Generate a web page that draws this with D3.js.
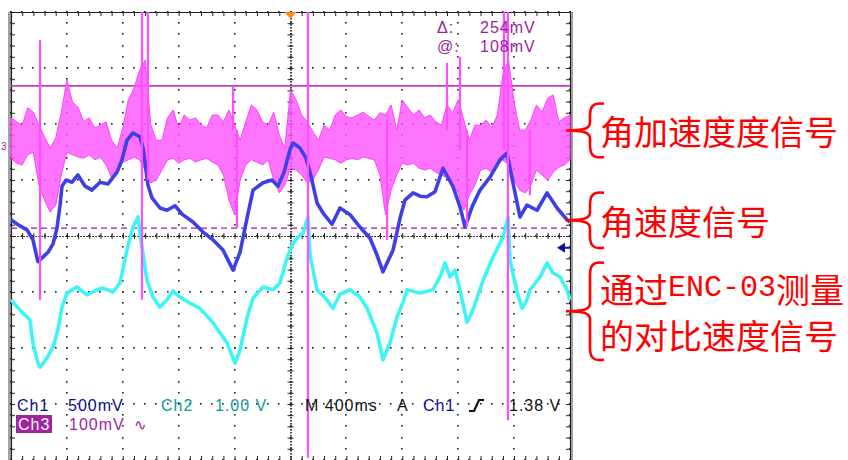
<!DOCTYPE html>
<html><head><meta charset="utf-8">
<script src="https://cdn.jsdelivr.net/npm/d3@7"></script>
<style>body{margin:0;background:#fff}svg{display:block}</style>
</head><body>
<svg id="c" width="848" height="460"></svg>
<script>
// ---------------- DATA (time in ms, values in screen divisions) ----------------
const ch1Time = [0,64,115,157,193,222,265,301,329,351,365,394,437,479,530,580,637,694,759,794,830,873,923,945,980,1009,1066,1116,1174,1224,1302,1374,1446,1517,1553,1589,1639,1689,1732,1803,1868,1911,1954,1996,2018,2068,2111,2140,2190,2233,2297,2354,2426,2497,2569,2619,2662,2734,2784,2819,2877,2927,2977,3034,3091,3163,3213,3249,3299,3356,3428,3499,3549,3592,3642,3692,3764,3836,3907,3979,4000];
const ch1Div = [0.29,0.18,0.11,-0.07,-0.46,-0.39,-0.29,-0.14,0.14,0.55,0.89,1.00,0.96,1.09,0.89,0.82,0.96,0.93,1.14,1.36,1.71,1.84,1.77,1.57,0.91,0.68,0.50,0.46,0.54,0.39,0.25,0.07,-0.07,-0.25,-0.43,-0.61,-0.29,0.32,0.82,0.95,1.00,0.89,1.14,1.54,1.66,1.57,1.39,1.14,0.59,0.41,0.21,0.50,0.38,0.16,-0.04,-0.34,-0.64,-0.25,0.32,0.64,0.77,0.71,0.70,0.79,1.21,0.88,0.52,0.16,0.52,0.82,1.05,1.36,1.48,0.95,0.34,0.55,0.46,0.77,0.50,0.29,0.25];

const ch2Time = [0,64,136,157,193,208,258,301,336,365,401,472,544,616,658,730,780,830,873,909,923,973,1016,1066,1116,1159,1209,1281,1352,1446,1546,1603,1639,1689,1732,1803,1875,1925,1975,2018,2054,2090,2125,2140,2190,2261,2304,2354,2426,2497,2548,2619,2662,2712,2762,2805,2834,2927,3020,3070,3106,3141,3177,3213,3263,3306,3378,3449,3521,3557,3571,3621,3657,3692,3714,3786,3836,3879,3929,3979,4000];
const ch2Div = [-1.14,-1.32,-1.50,-1.91,-2.27,-2.34,-2.18,-1.98,-1.68,-1.27,-1.02,-0.91,-1.05,-0.96,-0.93,-1.00,-0.84,-0.25,0.16,0.34,0.05,-0.79,-1.09,-1.27,-1.14,-0.98,-1.09,-1.20,-1.29,-1.55,-1.91,-2.27,-2.04,-1.46,-1.11,-0.91,-0.96,-0.84,-0.39,-0.13,-0.02,0.05,0.34,-0.34,-0.96,-1.14,-1.29,-1.04,-0.96,-1.09,-1.29,-1.73,-2.21,-1.91,-1.45,-1.18,-0.96,-1.02,-0.96,-0.73,-0.48,-0.73,-0.61,-0.96,-1.54,-1.32,-0.79,-0.38,-0.02,0.34,-0.43,-1.00,-1.29,-1.14,-0.96,-0.73,-0.48,-0.66,-0.73,-0.96,-1.14];

// Ch3 peak-detect envelope, one bin every 40 ms
const ch3BinMs = 40;
const ch3Max = [2.11,2.04,1.98,2.29,2.21,1.98,1.77,1.57,1.75,2.21,
 2.79,2.39,2.30,2.04,2.11,1.93,1.98,2.04,1.71,1.57,
 1.93,2.43,2.64,2.96,3.14,1.98,1.71,1.71,2.11,2.25,
 1.93,2.16,2.07,2.11,1.98,1.93,2.16,2.16,2.04,2.25,
 1.98,1.71,2.04,2.34,2.25,2.04,1.98,2.21,1.80,1.57,
 2.61,2.43,2.16,2.04,1.86,1.71,1.98,1.89,2.16,2.25,
 2.13,2.11,2.16,2.21,2.14,2.07,2.20,2.16,2.34,1.89,
 2.43,2.29,2.16,2.25,2.11,2.16,2.04,1.98,2.34,2.20,
 2.43,2.07,1.71,1.98,1.98,2.07,1.93,2.16,2.88,3.14,
 2.39,1.89,1.89,2.07,2.34,2.21,2.46,2.52,2.04,2.11,
 2.16];
const ch3Min = [1.39,1.30,1.27,1.45,1.50,0.91,0.64,0.43,0.55,1.09,
 1.50,1.45,1.41,1.39,1.45,1.36,1.41,1.27,1.05,1.14,
 1.32,1.36,1.41,1.36,1.18,0.95,1.00,1.18,1.36,1.39,
 1.30,1.36,1.39,1.32,1.36,1.39,1.32,1.27,1.09,0.64,
 0.38,1.00,1.27,1.36,1.32,1.27,1.36,1.00,0.77,0.91,
 1.21,1.18,1.09,0.95,1.00,1.18,1.41,1.39,1.36,1.30,
 1.36,1.39,1.36,1.41,1.39,1.36,1.09,0.38,0.82,1.09,
 1.30,1.27,1.30,1.21,1.18,1.21,1.14,1.09,1.04,0.91,
 0.77,0.46,0.73,0.91,1.18,1.21,1.14,1.27,1.36,1.27,
 1.00,0.82,0.77,0.91,1.18,1.09,1.00,1.14,1.23,1.27,
 1.36];
// Ch3 glitches (narrow spikes)
const spikeTime = [208,937,980,1589,1617,2125,2691,3120,3213,3263,3527,3556,3713];
const spikeMax  = [3.50,4.00,4.00,2.66,1.89,4.00,2.07,3.09,3.20,1.89,4.00,4.00,1.89];
const spikeMin  = [-1.14,-1.14,1.00,1.89,0.14,-3.96,-0.07,1.89,1.54,0.16,1.54,-3.29,0.73];

const cursorDiv = [2.68, 0.14];          // Ch3 cursors (solid, dashed)
const cursorText = ["Δ:", "254mV", "@:", "108mV"];
const triggerTimeMs = 2000;
const triggerLevelDiv = -0.21;
const ch3GroundDiv = 1.60;

const noteLines = [["角加速度度信号"], ["角速度信号"], ["通过ENC-03测量", "的对比速度信号"]];
const noteTopDiv = [2.36, 0.77, -0.48];
const noteBottomDiv = [1.41, -0.21, -2.21];

// ---------------- CHART ----------------
const svg = d3.select("#c");
const X0 = 11, X1 = 570, Y0 = 12, Y1 = 460;
const x = d3.scaleLinear().domain([0, 4000]).range([X0, X1]);
const y = d3.scaleLinear().domain([-4, 4]).range([Y1, Y0]);

// frame side bands
svg.append("rect").attr("x", X0 - 3).attr("y", Y0).attr("width", 3).attr("height", Y1 - Y0).attr("fill", "#a3a3a3");
svg.append("rect").attr("x", X1).attr("y", Y0).attr("width", 3).attr("height", Y1 - Y0).attr("fill", "#a3a3a3");

// graticule dots
const majorT = d3.range(0, 4001, 400), majorV = d3.range(-4, 4.001, 1);
const minorT = d3.range(0, 4001, 80), minorV = d3.range(-4, 4.001, 0.2);
const dots = [];
majorT.forEach(t => minorV.forEach(v => dots.push([t, v])));
majorV.forEach(v => minorT.forEach(t => dots.push([t, v])));
svg.append("g").selectAll("rect").data(dots).join("rect")
  .attr("x", d => Math.round(x(d[0])) - 1).attr("y", d => Math.round(y(d[1])) - 1)
  .attr("width", 1.6).attr("height", 1.6).attr("fill", "#222");

function ax(gen, tx, ty, size, dashed) {
  const g = svg.append("g").attr("transform", `translate(${tx},${ty})`)
    .attr("color", "#222")
    .call(gen.tickSize(size).tickSizeOuter(0).tickFormat(""));
  g.selectAll("line").attr("stroke-width", 1);
  g.select(".domain").attr("stroke-width", 1.2).attr("stroke-dasharray", dashed ? "1.5,1.5" : null);
  return g;
}
ax(d3.axisBottom(x).tickValues(minorT), 0, Y0, 4, false);
ax(d3.axisTop(x).tickValues(minorT), 0, Y1, 4, false);
ax(d3.axisRight(y).tickValues(minorV), X0, 0, 4, false);
ax(d3.axisLeft(y).tickValues(minorV), X1, 0, 4, false);
ax(d3.axisBottom(x).tickValues(minorT), 0, y(0), 3, true);
ax(d3.axisTop(x).tickValues(minorT), 0, y(0), 3, true);
ax(d3.axisRight(y).tickValues(minorV), x(triggerTimeMs), 0, 3, true);
ax(d3.axisLeft(y).tickValues(minorV), x(triggerTimeMs), 0, 3, true);

// cursors
svg.append("line").attr("x1", X0).attr("x2", X1).attr("y1", y(cursorDiv[0])).attr("y2", y(cursorDiv[0]))
  .attr("stroke", "#c23cc2").attr("stroke-width", 1.6);
svg.append("line").attr("x1", X0).attr("x2", X1).attr("y1", y(cursorDiv[1])).attr("y2", y(cursorDiv[1]))
  .attr("stroke", "#a01aa0").attr("stroke-width", 1.4).attr("stroke-dasharray", "6,4");

// Ch3 envelope
const ch3 = ch3Max.map((v, i) => ({t: i * ch3BinMs, hi: v, lo: ch3Min[i]}));
svg.append("path").datum(ch3)
  .attr("d", d3.area().x(d => x(d.t)).y0(d => y(d.lo)).y1(d => y(d.hi)))
  .attr("fill", "#ff55ff").attr("fill-opacity", 0.82)
  .attr("stroke", "#ff40ff").attr("stroke-width", 1).attr("stroke-linejoin", "miter");

// Ch2, Ch1
const ch2 = ch2Time.map((t, i) => ({t, v: ch2Div[i]}));
const ch1 = ch1Time.map((t, i) => ({t, v: ch1Div[i]}));
const line = d3.line().x(d => x(d.t)).y(d => y(d.v));
svg.append("path").datum(ch2).attr("d", line).attr("fill", "none")
  .attr("stroke", "#3ef4f4").attr("stroke-width", 3.6).attr("stroke-linejoin", "round");
svg.append("path").datum(ch1).attr("d", line).attr("fill", "none")
  .attr("stroke", "#3f3fe8").attr("stroke-width", 3.6).attr("stroke-linejoin", "round");

// Ch3 spikes
svg.append("g").selectAll("line").data(spikeTime).join("line")
  .attr("x1", d => x(d)).attr("x2", d => x(d))
  .attr("y1", (d, i) => y(spikeMax[i])).attr("y2", (d, i) => y(spikeMin[i]))
  .attr("stroke", "#ff4dff").attr("stroke-width", 2.2);

// trigger position marker
const tx = x(triggerTimeMs);
svg.append("path").attr("d", `M${tx - 6},${Y0}L${tx + 6},${Y0}L${tx},${Y0 + 7}Z`).attr("fill", "#ff8a1c");
// trigger level marker
const ty = y(triggerLevelDiv);
svg.append("path").attr("d", `M${X1 - 13},${ty}L${X1 - 5},${ty - 5}L${X1 - 5},${ty + 5}Z`).attr("fill", "#10109a");
svg.append("line").attr("x1", X1 - 6).attr("x2", X1).attr("y1", ty).attr("y2", ty).attr("stroke", "#10109a").attr("stroke-width", 2);
// ground marker
svg.append("text").attr("x", 1).attr("y", y(ch3GroundDiv) + 3.5).attr("font-size", 10)
  .attr("font-family", "Liberation Sans, Arial").attr("fill", "#a020a0").text("3");

// readouts
const F = "Liberation Sans, Arial, sans-serif";
function txt(s, xx, yy, col, size) {
  return svg.append("text").attr("x", xx).attr("y", yy).attr("fill", col)
    .attr("font-family", F).attr("font-size", size || 16).attr("letter-spacing", 1).text(s);
}
txt(cursorText[0], 437, 33, "#9c1c9c");
txt(cursorText[1], 480, 33, "#9c1c9c");
txt(cursorText[2], 437, 52, "#9c1c9c");
txt(cursorText[3], 480, 52, "#9c1c9c");

txt("Ch1", 17, 411, "#0a0a96");
txt("500mV", 68, 411, "#0a0a96");
txt("Ch2", 161, 411, "#0a9a9a");
txt("1.00 V", 215, 411, "#0a9a9a");
txt("M 400ms", 305, 411, "#111");
txt("A", 397, 411, "#111");
txt("Ch1", 423, 411, "#0a0a96");
svg.append("path").attr("d", "M469,411L474,411L479,400L484,400").attr("fill", "none").attr("stroke", "#111").attr("stroke-width", 2.2);
txt("1.38 V", 509, 411, "#111");
svg.append("rect").attr("x", 16).attr("y", 415).attr("width", 36).attr("height", 18).attr("fill", "#a0239f");
txt("Ch3", 18, 430, "#ffffff");
txt("100mV", 69, 430, "#a0239f");
txt("∿", 134, 430, "#a0239f", 15);

// annotations
const NF = "'Noto Sans CJK SC', sans-serif";
noteLines.forEach((lines, i) => {
  const yt = y(noteTopDiv[i]), yb = y(noteBottomDiv[i]), ym = (yt + yb) / 2;
  const xr = 604, xs = 590, xt = 566;
  const d = `M${xr},${yt} C${xs + 2},${yt - 2} ${xs},${yt + 4} ${xs},${yt + 12} L${xs},${ym - 8} C${xs},${ym - 2} ${xs - 6},${ym} ${xt},${ym} C${xs - 6},${ym} ${xs},${ym + 2} ${xs},${ym + 8} L${xs},${yb - 12} C${xs},${yb - 4} ${xs + 2},${yb + 2} ${xr},${yb}`;
  svg.append("path").attr("d", d).attr("fill", "none").attr("stroke", "#ff0000").attr("stroke-width", 2.6);
  const n = lines.length;
  lines.forEach((s, j) => {
    const yy = ym + (j - (n - 1) / 2) * 46;
    const t = svg.append("text").attr("x", 600).attr("y", yy).attr("dominant-baseline", "central")
      .attr("fill", "#ff0000").attr("font-family", NF).attr("font-size", 34);
    const m = s.match(/^(.*?)([A-Z0-9\-]+)(.*)$/);
    if (m) {
      t.append("tspan").text(m[1]);
      t.append("tspan").attr("font-family", "Liberation Mono, DejaVu Sans Mono, monospace").attr("font-size", 30).text(m[2]);
      t.append("tspan").text(m[3]);
    } else t.text(s);
  });
});
</script>
</body></html>
